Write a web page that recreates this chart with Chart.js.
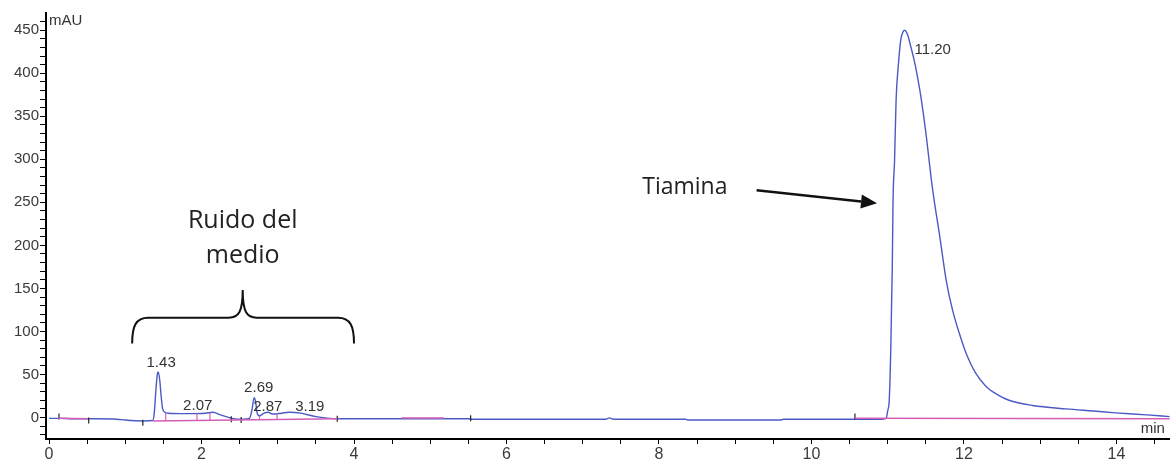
<!DOCTYPE html>
<html>
<head>
<meta charset="utf-8">
<script src="https://cdn.jsdelivr.net/npm/chart.js@4/dist/chart.umd.min.js"></script>
<style>
  html, body { margin: 0; padding: 0; background: #fff; }
  #wrap { width: 1175px; height: 461px; position: relative; }
</style>
</head>
<body>
<div id="wrap"><canvas id="chrom"></canvas></div>
<script>
// Chromatogram - tiamina peak at 11.20 min, media noise around 1.4-3.2 min

// retention time (min) and absorbance (mAU) of the detector trace
const traceTime = [0.00, 0.15, 0.30, 0.60, 0.89, 1.00, 1.23, 1.36, 1.38, 1.40, 1.42, 1.43, 1.45, 1.47, 1.49,
  1.52, 1.56, 1.80, 2.05, 2.15, 2.25, 2.40, 2.55, 2.63, 2.66, 2.69, 2.71, 2.73, 2.76, 2.82, 2.87, 2.93,
  3.05, 3.15, 3.30, 3.50, 3.68, 3.90, 4.60, 5.50, 5.55, 7.30, 7.35, 7.40, 8.35, 8.38, 9.60, 9.63,
  10.90, 10.98, 11.00, 11.02, 11.04, 11.06, 11.07, 11.09, 11.11, 11.14, 11.17, 11.20, 11.22, 11.26,
  11.30, 11.35, 11.39, 11.44, 11.51, 11.57, 11.61, 11.68, 11.77, 11.85, 11.96, 12.04, 12.15, 12.29,
  12.45, 12.59, 12.90, 13.34, 13.70, 13.99, 14.40, 14.70];
const traceMAU = [-1, -1, -1.5, -1.5, -2, -3, -4, -3.5, 5, 30, 50, 53, 45, 25, 10,
  6, 5, 4.5, 5, 6, 3, -1, -2, -1, 8, 23, 18, 5, 2, 5, 6, 4,
  5, 6, 5, 1, -1, -1.5, -1.5, -1.5, -2, -2, -0.5, -2, -2, -3, -3, -2,
  -2, -1, 8, 20, 78, 175, 252, 299, 369, 410, 438, 448, 450, 445,
  432, 414, 396, 370, 324, 278, 252, 212, 158, 125, 92, 72, 52, 36,
  26, 20, 14, 10, 7.5, 5.4, 3, 1];

// integration baselines (pink), null = gap between segments
const baseTime = [0.12, 0.51, null, 1.36, 3.78, null, 4.62, 5.18, null, 10.57, 14.70];
const baseMAU = [-1, -1.5, null, -4, -1.5, null, -0.5, -0.5, null, -1, -1.5];

// peak split drop lines: time, bottom, top
const dropTime = [1.53, 1.94, 2.11, 2.76, 2.99];
const dropLow = [-3.8, -3.2, -3, -2.3, -2.2];
const dropHigh = [5.5, 4.5, 5.5, 2, 4.5];

// start / end integration marks
const markTime = [0.13, 0.52, 1.23, 2.39, 2.52, 3.78, 5.53, 10.57];
const markMAU = [1, -3.5, -6, -2, -3, -1.5, -1, 1];

// peak labels (text, position in data units)
const peakLabels = ['1.43', '2.07', '2.69', '2.87', '3.19', '11.20'];
const peakLabelX = [1.47, 1.95, 2.75, 2.87, 3.42, 11.59];
const peakLabelY = [64, 14, 34, 12, 12, 427];

const xTicks = [];
for (let i = 0; i <= 29; i++) xTicks.push(i * 0.5);
const yTicks = [];
for (let i = -2; i <= 46; i++) yTicks.push(i * 10);

const BLUE = '#4a5ac4';
const PINK = '#d45db8';

function toPoints(xs, ys) {
  return xs.map((x, i) => (x === null ? { x: NaN, y: null } : { x: x, y: ys[i] }));
}

let dropPoints = [];
dropTime.forEach((t, i) => {
  dropPoints.push({ x: t, y: dropLow[i] });
  dropPoints.push({ x: t, y: dropHigh[i] });
  dropPoints.push({ x: t, y: null });
});

const annotations = {
  id: 'annotations',
  afterDatasetsDraw(chart) {
    const ctx = chart.ctx;
    const xs = chart.scales.x, ys = chart.scales.y;
    const px = v => xs.getPixelForValue(v);
    const py = v => ys.getPixelForValue(v);
    const area = chart.chartArea;

    ctx.save();
    // peak retention labels
    ctx.fillStyle = '#333';
    ctx.font = '15px "Liberation Sans", Arial, sans-serif';
    ctx.textAlign = 'center';
    ctx.textBaseline = 'middle';
    peakLabels.forEach((s, i) => ctx.fillText(s, px(peakLabelX[i]), py(peakLabelY[i])));

    // axis units
    ctx.textAlign = 'left';
    ctx.fillText('mAU', area.left + 3, area.top + 8);
    ctx.textAlign = 'right';
    ctx.fillText('min', area.right - 5, area.bottom - 10);

    // brace over the noise
    const L = px(1.09), R = px(4.0), M = px(2.54);
    const yE = py(86), yH = py(116), yT = py(148);
    ctx.strokeStyle = '#111';
    ctx.lineWidth = 2;
    ctx.beginPath();
    ctx.moveTo(L, yE);
    ctx.bezierCurveTo(L, yH + 8, L + 4, yH, L + 16, yH);
    ctx.lineTo(M - 14, yH);
    ctx.bezierCurveTo(M - 4, yH, M, yH - 6, M, yT);
    ctx.bezierCurveTo(M, yH - 6, M + 4, yH, M + 14, yH);
    ctx.lineTo(R - 16, yH);
    ctx.bezierCurveTo(R - 4, yH, R, yH + 8, R, yE);
    ctx.stroke();

    ctx.fillStyle = '#222';
    ctx.font = '25px "Open Sans", sans-serif';
    ctx.textAlign = 'center';
    ctx.textBaseline = 'alphabetic';
    ctx.fillText('Ruido del', M, py(220));
    ctx.fillText('medio', M, py(179));

    ctx.font = '23px "Open Sans", sans-serif';
    ctx.textAlign = 'left';
    ctx.fillText('Tiamina', px(7.78), py(260));

    // arrow to the peak
    const x1 = px(9.28), y1 = py(264), x2 = px(10.86), y2 = py(249);
    const ang = Math.atan2(y2 - y1, x2 - x1);
    const head = 16;
    ctx.lineWidth = 2.5;
    ctx.beginPath();
    ctx.moveTo(x1, y1);
    ctx.lineTo(x2 - head * Math.cos(ang), y2 - head * Math.sin(ang));
    ctx.stroke();
    ctx.fillStyle = '#111';
    ctx.beginPath();
    ctx.moveTo(x2, y2);
    ctx.lineTo(x2 - head * Math.cos(ang) + 7 * Math.sin(ang), y2 - head * Math.sin(ang) - 7 * Math.cos(ang));
    ctx.lineTo(x2 - head * Math.cos(ang) - 7 * Math.sin(ang), y2 - head * Math.sin(ang) + 7 * Math.cos(ang));
    ctx.closePath();
    ctx.fill();
    ctx.restore();
  }
};

const tickFont = { family: '"Liberation Sans", Arial, sans-serif', size: 15 };

new Chart(document.getElementById('chrom'), {
  type: 'line',
  data: {
    datasets: [
      {
        label: 'baseline',
        data: toPoints(baseTime, baseMAU),
        borderColor: PINK,
        borderWidth: 1.5,
        pointRadius: 0,
        spanGaps: false,
        order: 0
      },
      {
        label: 'drops',
        data: dropPoints,
        borderColor: PINK,
        borderWidth: 1.2,
        pointRadius: 0,
        spanGaps: false,
        order: 0
      },
      {
        label: 'marks',
        data: toPoints(markTime, markMAU),
        showLine: false,
        pointStyle: 'line',
        rotation: 90,
        pointRadius: 3,
        borderColor: '#222',
        borderWidth: 1.2,
        order: 0
      },
      {
        label: 'trace',
        data: toPoints(traceTime, traceMAU),
        borderColor: BLUE,
        borderWidth: 1.4,
        pointRadius: 0,
        cubicInterpolationMode: 'monotone',
        order: 1
      }
    ]
  },
  options: {
    responsive: true,
    maintainAspectRatio: false,
    animation: false,
    devicePixelRatio: 1,
    layout: { padding: { top: 13, right: 0, left: 0, bottom: 0 } },
    plugins: {
      legend: { display: false },
      tooltip: { enabled: false }
    },
    scales: {
      x: {
        type: 'linear',
        min: -0.04,
        max: 14.70,
        afterBuildTicks: scale => { scale.ticks = xTicks.map(v => ({ value: v })); },
        afterFit: scale => { scale.height = 22; },
        ticks: {
          autoSkip: false,
          maxRotation: 0,
          padding: 1,
          color: '#3a3a3a',
          font: { family: '"Liberation Sans", Arial, sans-serif', size: 16 },
          callback: v => (v % 2 === 0 ? String(v) : '')
        },
        grid: { drawOnChartArea: false, tickLength: 5, color: '#000', lineWidth: 1 },
        border: { color: '#000', width: 2 }
      },
      y: {
        min: -25,
        max: 470,
        afterBuildTicks: scale => { scale.ticks = yTicks.map(v => ({ value: v })); },
        afterFit: scale => { scale.width = 46; },
        ticks: {
          autoSkip: false,
          padding: 1,
          color: '#3a3a3a',
          font: tickFont,
          callback: v => (v % 50 === 0 && v >= 0 ? String(v) : '')
        },
        grid: { drawOnChartArea: false, tickLength: 6, color: '#000', lineWidth: 1 },
        border: { color: '#000', width: 2 }
      }
    }
  },
  plugins: [annotations]
});
</script>
</body>
</html>
